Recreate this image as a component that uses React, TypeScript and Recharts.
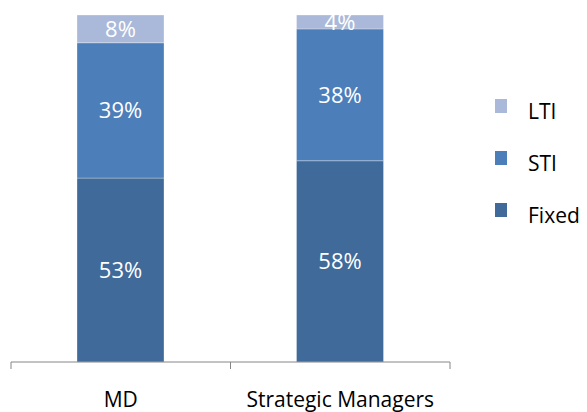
import { BarChart, Bar, XAxis, YAxis, LabelList } from "recharts";

const categories = ["MD", "Strategic Managers"];
const fixedShare = [53, 58];
const stiShare = [39, 38];
const ltiShare = [8, 4];

const data = categories.map((name, i) => ({
  name,
  Fixed: fixedShare[i],
  STI: stiShare[i],
  LTI: ltiShare[i],
}));

const COLORS = { Fixed: "#3F6A9A", STI: "#4C7EBA", LTI: "#AAB9D9" };
const LEGEND_ORDER = ["LTI", "STI", "Fixed"] as const;

const FONT = "'Open Sans', sans-serif";
const TICK_SIZE = 7;
const TICK_MARGIN = 23;

// tick lines sit on the category boundaries, not the centers
const BoundaryTick = (props: any) => {
  const { x, y, payload } = props;
  const half = payload?.offset ?? 0;
  const top = y - TICK_MARGIN - TICK_SIZE;
  const bottom = y - TICK_MARGIN;
  const last = payload?.index === categories.length - 1;
  return (
    <g>
      <line x1={x - half} x2={x - half} y1={top} y2={bottom} stroke="#868686" />
      {last && <line x1={x + half} x2={x + half} y1={top} y2={bottom} stroke="#868686" />}
      <text x={x} y={y} dy="0.71em" textAnchor="middle" fill="#000" fontSize={21} fontFamily={FONT}>
        {payload.value}
      </text>
    </g>
  );
};

// legend drawn beside the chart so it doesn't eat plot width
const LegendBox = () => (
  <div style={{ position: "absolute", left: 495, top: 97, fontFamily: FONT, fontSize: 21, color: "#000" }}>
    {LEGEND_ORDER.map((key, i) => (
      <div key={key} style={{ position: "absolute", top: i * 52, left: 0, width: 92, height: 28 }}>
        <div style={{ position: "absolute", left: 0, top: 2, width: 12, height: 14, background: COLORS[key] }} />
        <div style={{ position: "absolute", left: 33, top: 0, lineHeight: "28px", whiteSpace: "nowrap" }}>{key}</div>
      </div>
    ))}
  </div>
);

const pct = (v: any) => `${v}%`;

export default function App() {
  return (
    <div style={{ position: "absolute", left: 0, top: 0, width: 587, height: 412, background: "#fff" }}>
      <BarChart
        width={587}
        height={412}
        data={data}
        margin={{ top: 15, right: 137, bottom: 0, left: 11 }}
        barSize={87}
      >
        <XAxis
          dataKey="name"
          height={50}
          axisLine={{ stroke: "#868686" }}
          tickLine={false}
          tickSize={TICK_SIZE}
          tickMargin={TICK_MARGIN}
          tick={<BoundaryTick />}
          interval={0}
        />
        <YAxis hide domain={[0, 100]} />
        {(["Fixed", "STI", "LTI"] as const).map((key) => (
          <Bar
            key={key}
            dataKey={key}
            stackId="a"
            fill={COLORS[key]}
            stroke="#ffffff"
            strokeOpacity={0.3}
            isAnimationActive={false}
          >
            <LabelList dataKey={key} position="center" formatter={pct} fill="#fff" fontSize={22} fontFamily={FONT} />
          </Bar>
        ))}
      </BarChart>
      <LegendBox />
    </div>
  );
}
